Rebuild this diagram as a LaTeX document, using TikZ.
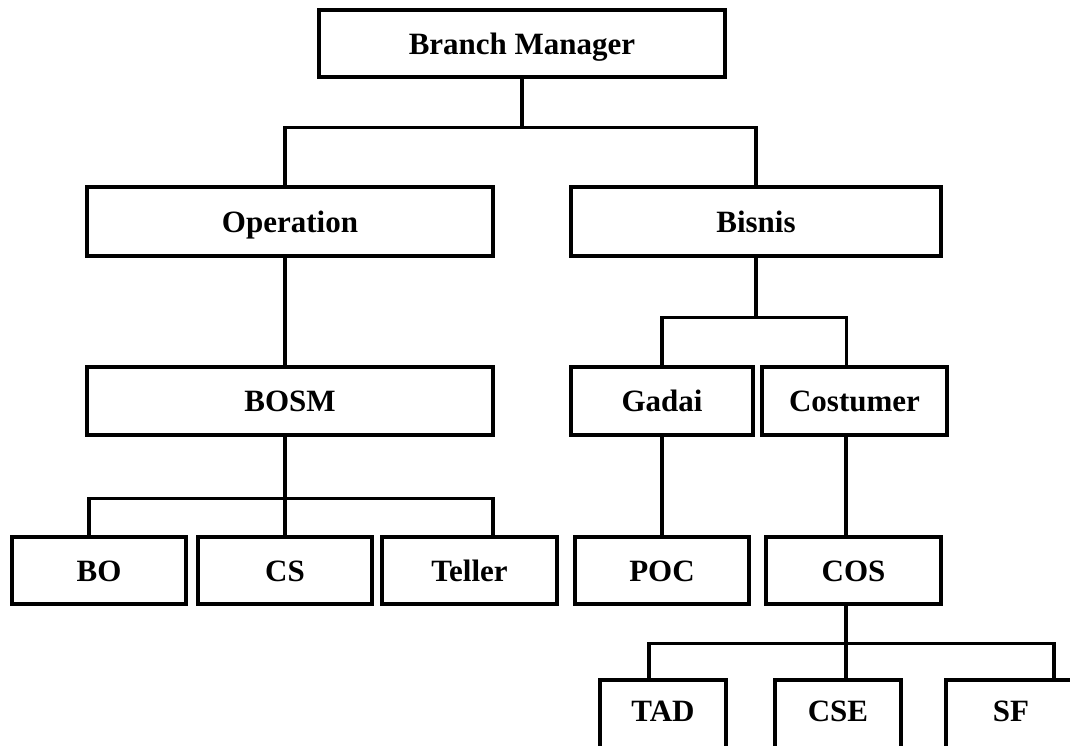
\documentclass[tikz,border=0pt]{standalone}
\usepackage{fontspec}
\setmainfont{Liberation Serif}

\begin{document}
\begin{tikzpicture}[x=1pt,y=-1pt,
	box/.style={draw, line width=3.3pt, inner sep=0pt, minimum height=67pt,
		font=\fontsize{31}{36}\selectfont\bfseries, text height=21pt, text depth=0pt},
	cut/.style={box, minimum height=80pt, text depth=18pt},
	link/.style={line width=3.3pt}]
	% page frame
	\clip (0,0) rectangle (1070,745);
	
	% the boxes
	\node[box, minimum width=406pt] (bm) at (522,43.5) {Branch Manager};
	\node[box, minimum width=406pt, minimum height=69pt] (op) at (290,221.5) {Operation};
	\node[box, minimum width=370pt, minimum height=69pt] (bis) at (756,221.5) {Bisnis};
	\node[box, minimum width=406pt, minimum height=68pt] (bosm) at (290,401) {BOSM};
	\node[box, minimum width=182pt, minimum height=68pt] (gad) at (662,401) {Gadai};
	\node[box, minimum width=185pt, minimum height=68pt] (cost) at (854.5,401) {Costumer};
	\node[box, minimum width=174pt] (bo) at (99,570.5) {BO};
	\node[box, minimum width=174pt] (cs) at (285,570.5) {CS};
	\node[box, minimum width=175pt] (tel) at (469.5,570.5) {Teller};
	\node[box, minimum width=174pt] (poc) at (662,570.5) {POC};
	\node[box, minimum width=175pt] (cos) at (853.5,570.5) {COS};
	\node[cut, minimum width=126pt] (tad) at (663,720) {TAD};
	\node[cut, minimum width=126pt] (cse) at (838,720) {CSE};
	\node[cut, minimum width=130pt] (sf) at (1011,720) {SF};
	
	% the lines
	\draw[link] (bm.south) -- ++(0,49) coordinate (bmbus);
	\draw[link] ([xshift=-5pt]op.north) |- (bmbus) -| (bis.north);
	\draw[link] ([xshift=-5pt]op.south) -- ([xshift=-5pt]bosm.north);
	
	\draw[link] (bis.south) -- ++(0,60) coordinate (bisbus);
	\draw[link] (gad.north) |- (bisbus) -| ([xshift=-8pt]cost.north);
	\draw[link] (gad.south) -- (poc.north);
	\draw[link] ([xshift=-8.5pt]cost.south) -- ([xshift=-7.5pt]cos.north);
	
	\draw[link] ([xshift=-5pt]bosm.south) -- (cs.north);
	\path ([xshift=-5pt]bosm.south) ++(0,62) coordinate (bosmbus);
	\draw[link] ([xshift=-10pt]bo.north) |- (bosmbus) -| ([xshift=23.5pt]tel.north);
	
	\draw[link] ([xshift=-7.5pt]cos.south) -- ++(0,38) coordinate (cosbus);
	\draw[link] ([xshift=-14pt]tad.north) |- (cosbus) -| ([xshift=43pt]sf.north);
	\draw[link] (cosbus) -- ([xshift=8pt]cse.north);
	
\end{tikzpicture}
\end{document}
